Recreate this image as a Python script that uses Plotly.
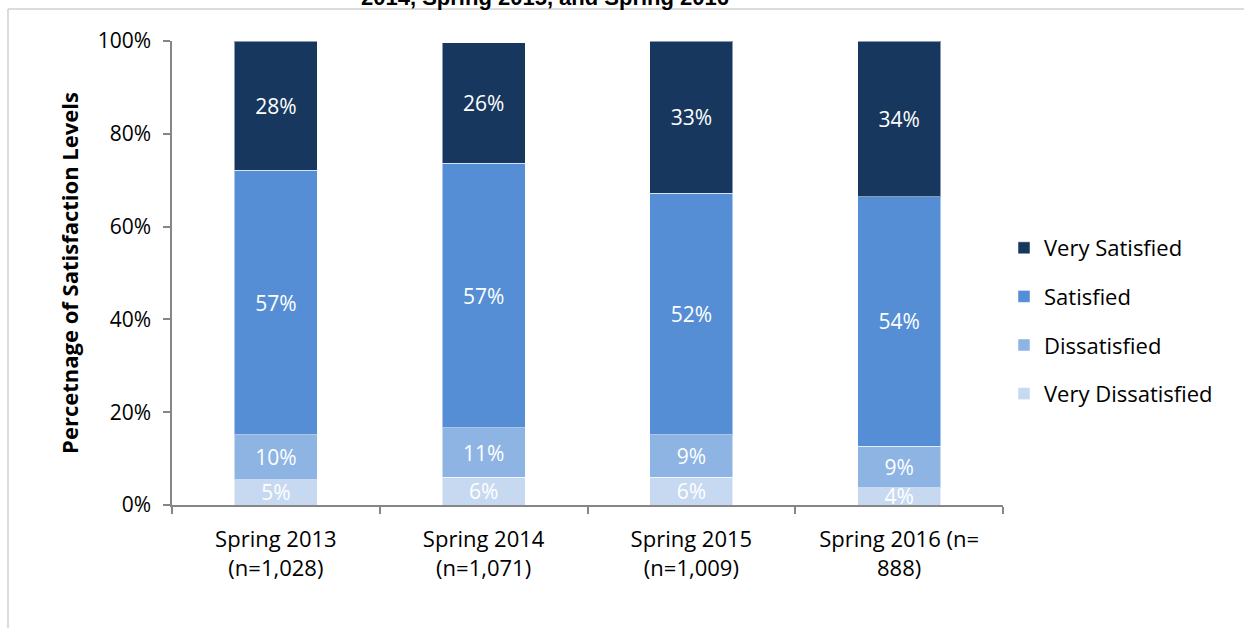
import plotly.graph_objects as go

categories = ["Spring 2013<br>(n=1,028)", "Spring 2014<br>(n=1,071)",
              "Spring 2015<br>(n=1,009)", "Spring 2016 (n=<br>888)"]
very_dissatisfied = [5.4, 6.0, 6.0, 3.7]
dissatisfied = [9.7, 10.6, 9.1, 9.0]
satisfied = [57.0, 57.1, 52.1, 53.7]
very_satisfied = [27.9, 25.9, 32.8, 33.6]
labels_vd = ["5%", "6%", "6%", "4%"]
labels_d = ["10%", "11%", "9%", "9%"]
labels_s = ["57%", "57%", "52%", "54%"]
labels_vs = ["28%", "26%", "33%", "34%"]
y_ticks = [0, 20, 40, 60, 80, 100]

series = [
    ("Very Dissatisfied", very_dissatisfied, labels_vd, "#C6D9F1", 4),
    ("Dissatisfied", dissatisfied, labels_d, "#8EB4E3", 3),
    ("Satisfied", satisfied, labels_s, "#558ED5", 2),
    ("Very Satisfied", very_satisfied, labels_vs, "#17375E", 1),
]

fig = go.Figure()
for name, vals, labs, col, rank in series:
    fig.add_trace(go.Bar(
        x=categories, y=vals, name=name, text=labs,
        textposition="inside", insidetextanchor="middle", textangle=0,
        constraintext="none", cliponaxis=True,
        textfont=dict(family="Open Sans", size=21, color="white"),
        marker=dict(color=col, line=dict(color="rgba(255,255,255,0.5)", width=1)),
        legendgroup=name, legendrank=rank, width=0.4,
    ))

PL, PR, PT, PB = 172, 1003, 41, 505
def px_x(px):
    return (px - PL) / (PR - PL)
def px_y(py):
    return (PB - py) / (PB - PT)

fig.update_layout(
    barmode="stack",
    width=1244, height=628,
    margin=dict(l=PL, r=1244 - PR, t=PT, b=628 - PB, autoexpand=False),
    paper_bgcolor="white", plot_bgcolor="white",
    font=dict(family="Open Sans", color="#000000"),
    uniformtext=dict(minsize=21, mode="show"),
    showlegend=True,
    legend=dict(
        x=px_x(1004), xanchor="left", y=px_y(321), yanchor="middle",
        traceorder="grouped", tracegroupgap=17,
        font=dict(family="Open Sans", size=22, color="#000000"),
        bgcolor="rgba(0,0,0,0)",
    ),
    xaxis=dict(
        type="category", showline=True, linecolor="#868686", linewidth=1.5,
        ticks="outside", tickson="boundaries", ticklen=7, tickcolor="#868686",
        tickwidth=1.5, tickfont=dict(family="Open Sans", size=22, color="#000000"),
        ticklabelstandoff=14,
        showgrid=False, zeroline=False,
    ),
    yaxis=dict(
        range=[0, 100], tickmode="array", tickvals=y_ticks,
        ticktext=[f"{v}%" for v in y_ticks],
        showline=True, linecolor="#868686", linewidth=1.5,
        ticks="outside", ticklen=7, tickcolor="#868686", tickwidth=1.5,
        tickfont=dict(family="Open Sans", size=21, color="#000000"),
        ticklabelstandoff=8,
        showgrid=False, zeroline=False,
        title=dict(text="<b>Percetnage of Satisfaction Levels</b>",
                   font=dict(family="Open Sans", size=22, color="#000000"),
                   standoff=13),
    ),
    annotations=[dict(
        text="<b>2014, Spring 2015, and Spring 2016</b>",
        xref="paper", yref="paper", x=px_x(545), y=px_y(12),
        xanchor="center", yanchor="bottom", showarrow=False,
        font=dict(family="Liberation Sans", size=22, color="#000000"),
    )],
    shapes=[
        dict(type="line", xref="paper", yref="paper",
             x0=px_x(8), x1=px_x(1250), y0=px_y(9), y1=px_y(9),
             line=dict(color="#d0d0d0", width=1.5)),
        dict(type="line", xref="paper", yref="paper",
             x0=px_x(8), x1=px_x(8), y0=px_y(9), y1=px_y(640),
             line=dict(color="#d0d0d0", width=1.5)),
    ],
)

fig.write_html("out.html", config={"displayModeBar": False},
               post_script="document.body.style.margin='0';")
